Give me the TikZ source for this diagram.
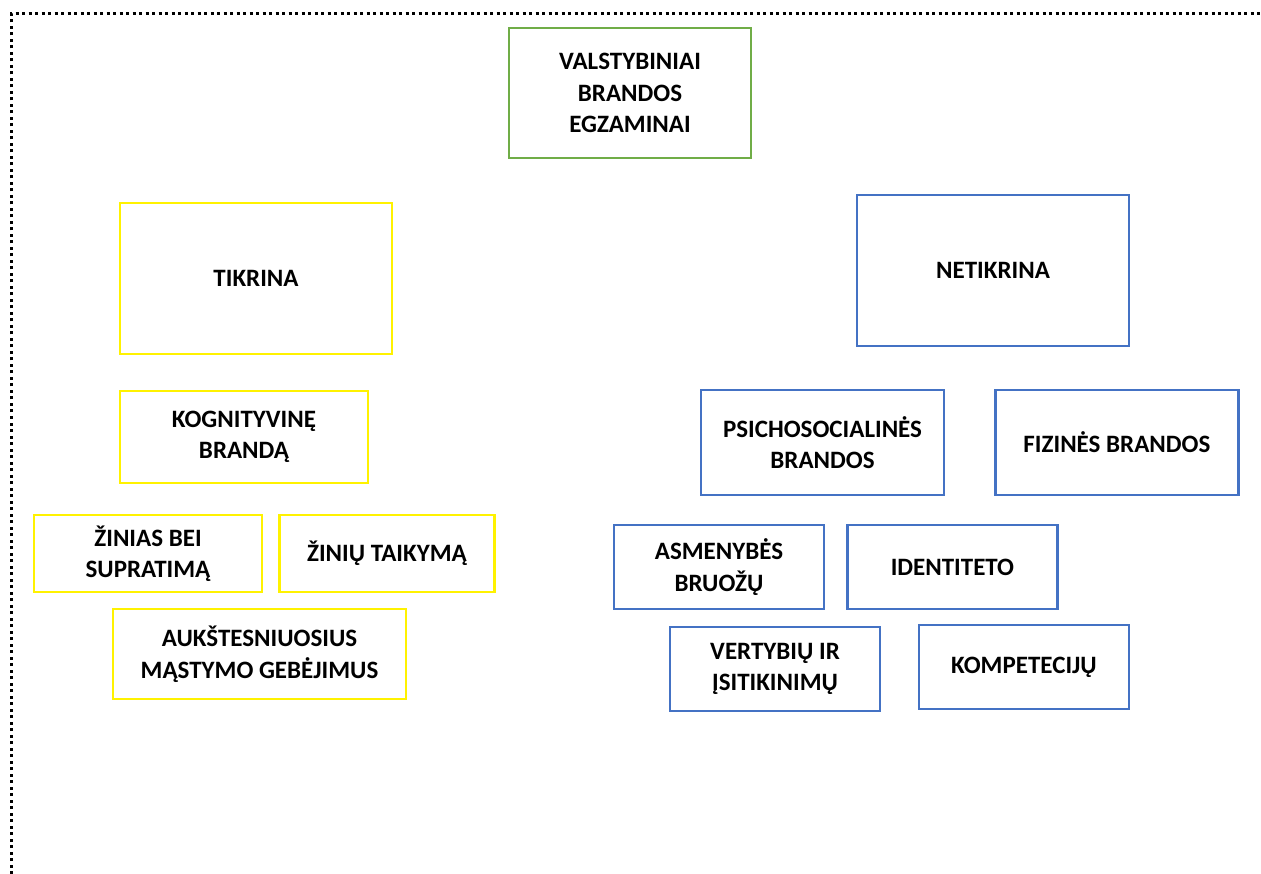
\documentclass[tikz,border=0pt]{standalone}
\usepackage{fontspec}
\setmainfont{Carlito}
\usepackage{xcolor}
\usetikzlibrary{positioning}

\definecolor{topgreen}{HTML}{70AD47}
\definecolor{boxyellow}{HTML}{FFF200}
\definecolor{boxblue}{HTML}{4472C4}

\begin{document}
\begin{tikzpicture}[x=1pt, y=-1pt, font=\fontsize{25}{31.5}\selectfont\bfseries]
		\tikzset{
			box/.style={draw, line width=2.4pt, align=center, inner sep=0pt},
			exam/.style={box, draw=topgreen},
			checked/.style={box, draw=boxyellow},
			unchecked/.style={box, draw=boxblue},
			frame/.style={line width=3pt, dash pattern=on 3pt off 3.5pt}
		}
		\useasboundingbox (0,0) rectangle (1261,874);
		\draw[frame] (11,874) -- (11,14) -- (1261,14);

		\node[exam, minimum width=242, minimum height=130] (exam) at (630,93) {VALSTYBINIAI\\BRANDOS\\EGZAMINAI};

		\node[checked, minimum width=272, minimum height=151] (tikrina) at (256,278.5) {TIKRINA};
		\node[checked, minimum width=248, minimum height=92] (kogn) at (244,437) {KOGNITYVINĘ\\BRANDĄ};
		\node[checked, minimum width=228, minimum height=77] (zinias) at (148,553.5) {ŽINIAS BEI\\SUPRATIMĄ};
		\node[checked, minimum width=215, minimum height=77, right=15pt of zinias] (taikymas) {ŽINIŲ TAIKYMĄ};
		\node[checked, minimum width=293, minimum height=90] (mastymas) at (259.5,654) {AUKŠTESNIUOSIUS\\MĄSTYMO GEBĖJIMUS};

		\node[unchecked, minimum width=272, minimum height=151] (netikrina) at (993,270.5) {NETIKRINA};
		\node[unchecked, minimum width=243, minimum height=105] (psicho) at (822.5,442.5) {PSICHOSOCIALINĖS\\BRANDOS};
		\node[unchecked, minimum width=243, minimum height=105, right=49pt of psicho] (fizines) {FIZINĖS BRANDOS};
		\node[unchecked, minimum width=210, minimum height=84] (asmenybe) at (719,567) {ASMENYBĖS\\BRUOŽŲ};
		\node[unchecked, minimum width=210, minimum height=84, right=21pt of asmenybe] (identitetas) {IDENTITETO};
		\node[unchecked, minimum width=210, minimum height=84] (vertybes) at (775,669) {VERTYBIŲ IR\\ĮSITIKINIMŲ};
		\node[unchecked, minimum width=210, minimum height=84] (kompetencijos) at (1024,667) {KOMPETECIJŲ};
	\end{tikzpicture}
\end{document}
